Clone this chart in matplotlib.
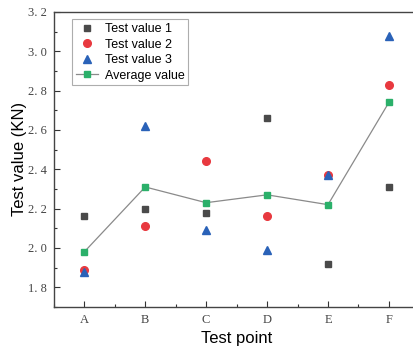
import matplotlib.pyplot as plt
import numpy as np
from matplotlib.ticker import MultipleLocator

points = ['A', 'B', 'C', 'D', 'E', 'F']
test1 = [2.16, 2.20, 2.18, 2.66, 1.92, 2.31]
test2 = [1.89, 2.11, 2.44, 2.16, 2.37, 2.83]
test3 = [1.88, 2.62, 2.09, 1.99, 2.37, 3.08]
average = [1.98, 2.31, 2.23, 2.27, 2.22, 2.74]
yticks = [1.8, 2.0, 2.2, 2.4, 2.6, 2.8, 3.0, 3.2]

x = np.arange(1, len(points) + 1)

fig = plt.figure(figsize=(4.14, 3.5), dpi=100)
ax = fig.add_axes([0.130, 0.123, 0.883, 0.843])

ax.plot(x, test1, 's', color='#4a4a4a', markersize=5, label='Test value 1')
ax.plot(x, test2, 'o', color='#e8393f', markersize=5.5, label='Test value 2')
ax.plot(x, test3, '^', color='#2a62b8', markersize=6, label='Test value 3')
ax.plot(x, average, '-s', color='#8a8a8a', linewidth=0.9,
        markerfacecolor='#2bb06a', markeredgecolor='#2bb06a', markersize=5,
        label='Average value')

ax.set_xlim(0.5, 6.5)
ax.set_ylim(1.7, 3.2)
ax.set_xticks(x)
ax.set_xticklabels(points, family='Liberation Serif', fontsize=9)
ax.set_yticks(yticks)
ax.set_yticklabels([('%.1f' % v).replace('.', '. ') for v in yticks],
                   family='Liberation Serif', fontsize=9)
ax.xaxis.set_minor_locator(MultipleLocator(0.5))
ax.yaxis.set_minor_locator(MultipleLocator(0.1))
ax.tick_params(which='major', direction='in', length=4, width=0.8, colors='#333333',
               labelcolor='#444444', pad=5)
ax.tick_params(which='minor', direction='in', length=2, width=0.8, colors='#333333')

for s in ax.spines.values():
    s.set_color('#444444')
    s.set_linewidth(1.0)

ax.set_xlabel('Test point', family='Liberation Sans', fontsize=12, labelpad=4)
ax.set_ylabel('Test value (KN)', family='Liberation Sans', fontsize=12)
ax.yaxis.set_label_coords(-0.072, 0.5)

leg = ax.legend(loc='upper left', bbox_to_anchor=(0.05, 0.975), prop={'family': 'Liberation Sans', 'size': 9},
                frameon=True, fancybox=False, edgecolor='#999999', handlelength=1.8,
                handletextpad=0.5, borderpad=0.3, labelspacing=0.28, borderaxespad=0)
leg.get_frame().set_linewidth(0.8)

fig.savefig('out.png', dpi=100)
